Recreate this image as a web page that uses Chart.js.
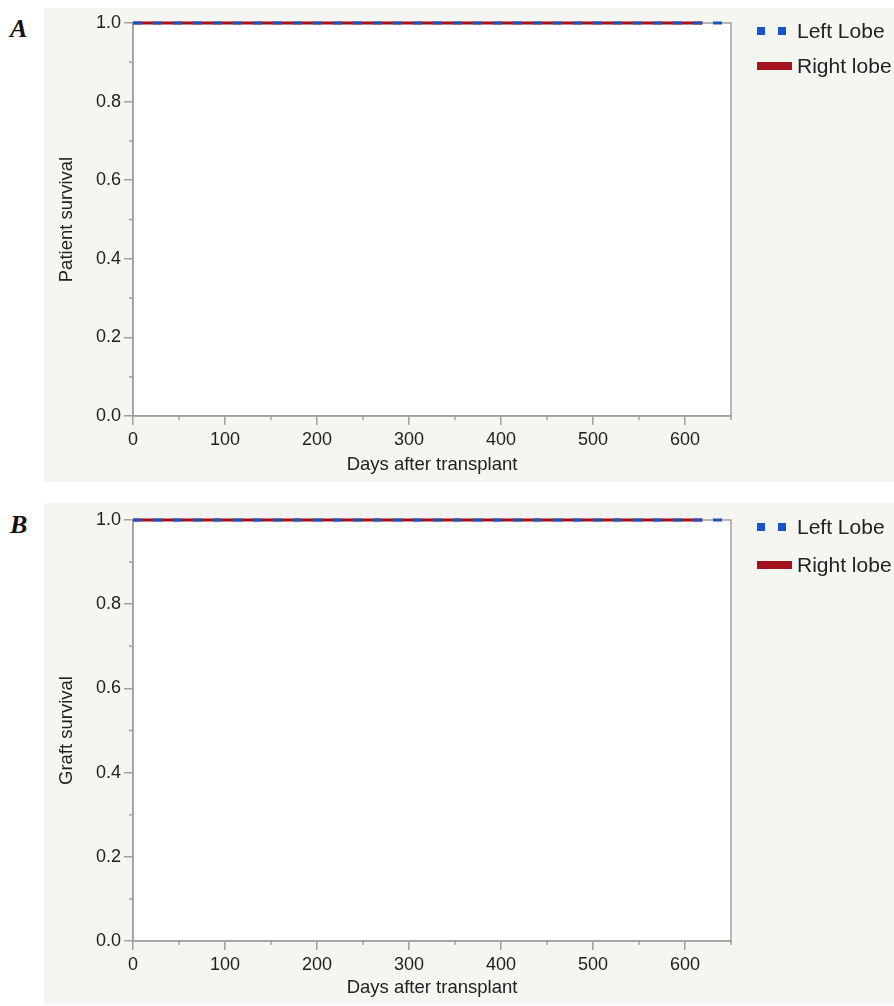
<!DOCTYPE html>
<html>
<head>
<meta charset="utf-8">
<script src="https://cdn.jsdelivr.net/npm/chart.js@4"></script>
<style>
  body { margin: 0; background: #fff; width: 894px; height: 1006px; position: relative; overflow: hidden; }
  .panel { position: absolute; left: 44px; width: 850px; background: #f5f5f1; }
  .tag { position: absolute; left: 10px; font: bold italic 26px "Liberation Serif", "Times New Roman", serif; color: #111; }
</style>
</head>
<body>
<div class="tag" style="top:14px">A</div>
<div class="tag" style="top:510px">B</div>
<div class="panel" style="top:8px;height:474px"><canvas id="chartA"></canvas></div>
<div class="panel" style="top:503px;height:502px"><canvas id="chartB"></canvas></div>
<script>
// Kaplan-Meier data (no events, curves flat at 1.0 until last follow-up)
const patientLeftDays = [0, 645];
const patientLeftSurv = [1, 1];
const patientRightDays = [0, 619];
const patientRightSurv = [1, 1];

const graftLeftDays = [0, 645];
const graftLeftSurv = [1, 1];
const graftRightDays = [0, 619];
const graftRightSurv = [1, 1];

const seriesNames = ['Left Lobe', 'Right lobe'];
const xTicks = [0, 100, 200, 300, 400, 500, 600];
const xMinorTicks = [50, 150, 250, 350, 450, 550, 650];
const yTicks = [0, 0.2, 0.4, 0.6, 0.8, 1.0];
const yMinorTicks = [0.1, 0.3, 0.5, 0.7, 0.9];

const BLUE = '#1656c6';
const RED = '#a3111d';
const AXIS = '#a0a0a0';
const TEXT = '#222';
const FONT = '"Liberation Sans", Arial, sans-serif';

function pts(xs, ys) {
  return xs.map((x, i) => ({ x: x, y: ys[i] }));
}

// white plot box, its border and the minor ticks (under the curves)
const plotBox = {
  id: 'plotBox',
  beforeDraw(chart) {
    const a = chart.chartArea, c = chart.ctx;
    c.save();
    c.fillStyle = '#fff';
    c.fillRect(a.left, a.top, a.right - a.left, a.bottom - a.top);
    c.restore();
  },
  beforeDatasetsDraw(chart) {
    const a = chart.chartArea, c = chart.ctx;
    const xs = chart.scales.x, ys = chart.scales.y;
    c.save();
    c.strokeStyle = AXIS;
    c.lineWidth = 1.5;
    c.strokeRect(a.left, a.top, a.right - a.left, a.bottom - a.top);
    c.beginPath();
    xMinorTicks.forEach(v => {
      const p = xs.getPixelForValue(v);
      c.moveTo(p, a.bottom);
      c.lineTo(p, a.bottom + 4);
    });
    yMinorTicks.forEach(v => {
      const p = ys.getPixelForValue(v);
      c.moveTo(a.left, p);
      c.lineTo(a.left - 4, p);
    });
    c.stroke();
    c.restore();
  }
};

// legend drawn to the right of the plot
const sideLegend = {
  id: 'sideLegend',
  afterDraw(chart, args, opts) {
    const a = chart.chartArea, c = chart.ctx;
    const x0 = a.right + 26;
    const y1 = a.top + opts.y1, y2 = a.top + opts.y2;
    c.save();
    c.fillStyle = BLUE;
    c.fillRect(x0, y1 - 4, 8, 8);
    c.fillRect(x0 + 21, y1 - 4, 8, 8);
    c.fillStyle = RED;
    c.fillRect(x0, y2 - 4, 35, 8);
    c.fillStyle = TEXT;
    c.font = '21px ' + FONT;
    c.textBaseline = 'middle';
    c.fillText(seriesNames[0], x0 + 40, y1 + 1);
    c.fillText(seriesNames[1], x0 + 40, y2 + 1);
    c.restore();
  }
};

function makeChart(id, yTitle, left, right, padTop, xHeight, leg) {
  return new Chart(document.getElementById(id), {
    type: 'line',
    data: {
      datasets: [
        {
          label: seriesNames[0],
          data: pts(left[0], left[1]),
          borderColor: BLUE,
          borderWidth: 3,
          borderDash: [9, 11],
          stepped: true,
          pointRadius: 0,
          clip: 4,
          order: 0
        },
        {
          label: seriesNames[1],
          data: pts(right[0], right[1]),
          borderColor: RED,
          borderWidth: 3,
          stepped: true,
          pointRadius: 0,
          clip: 4,
          order: 1
        }
      ]
    },
    options: {
      responsive: true,
      maintainAspectRatio: false,
      animation: false,
      layout: { padding: { left: 0, right: 163, top: padTop, bottom: 0 } },
      plugins: {
        legend: { display: false },
        tooltip: { enabled: false },
        sideLegend: leg
      },
      scales: {
        x: {
          type: 'linear',
          min: 0,
          max: 650,
          afterBuildTicks: s => { s.ticks = xTicks.map(v => ({ value: v })); },
          afterFit: s => { s.height = xHeight; },
          border: { color: AXIS, width: 1.5 },
          grid: { drawOnChartArea: false, tickLength: 9, color: AXIS, lineWidth: 1.5 },
          ticks: { color: TEXT, font: { family: FONT, size: 18 }, padding: 4, maxRotation: 0 },
          title: { display: true, text: 'Days after transplant', color: TEXT, font: { family: FONT, size: 18.5 }, padding: { top: 0, bottom: 6 } }
        },
        y: {
          min: 0,
          max: 1,
          afterBuildTicks: s => { s.ticks = yTicks.map(v => ({ value: v })); },
          afterFit: s => { s.width = 89; },
          border: { color: AXIS, width: 1.5 },
          grid: { drawOnChartArea: false, tickLength: 9, color: AXIS, lineWidth: 1.5 },
          ticks: { color: TEXT, font: { family: FONT, size: 18 }, padding: 3, callback: v => v.toFixed(1) },
          title: { display: true, text: yTitle, color: TEXT, font: { family: FONT, size: 18.5 }, padding: { top: 12, bottom: 0 } }
        }
      }
    },
    plugins: [plotBox, sideLegend]
  });
}

makeChart('chartA', 'Patient survival',
  [patientLeftDays, patientLeftSurv], [patientRightDays, patientRightSurv],
  15, 66, { y1: 8, y2: 43 });
makeChart('chartB', 'Graft survival',
  [graftLeftDays, graftLeftSurv], [graftRightDays, graftRightSurv],
  17, 64, { y1: 7, y2: 45 });
</script>
</body>
</html>
